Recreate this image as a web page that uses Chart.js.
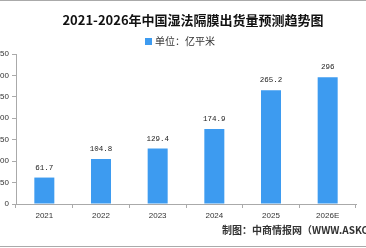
<!DOCTYPE html>
<html>
<head>
<meta charset="utf-8">
<script src="https://cdn.jsdelivr.net/npm/chart.js@4"></script>
<style>
  html, body { margin: 0; padding: 0; background: #fff; }
  #wrap { position: relative; width: 366px; height: 248px; overflow: hidden; }
  #footer {
    position: absolute; left: 222px; top: 222px; white-space: nowrap;
    font: bold 10px "Noto Sans CJK SC", sans-serif; color: #333;
  }
</style>
</head>
<body>
<div id="wrap">
  <canvas id="c" width="366" height="248"></canvas>
  <div id="footer">制图：中商情报网（WWW.ASKCI.COM）</div>
</div>
<script>
// data
const years = ['2021', '2022', '2023', '2024', '2025', '2026E']
const shipments = [61.7, 104.8, 129.4, 174.9, 265.2, 296]
const yTicks = [0, 50, 100, 150, 200, 250, 300, 350]

const chartTitle = '2021-2026年中国湿法隔膜出货量预测趋势图'
const unitLabel = '单位：亿平米'
const barColor = '#3d9bf0'

// title, legend, frame lines and value labels
const decor = {
  id: 'decor',
  afterDraw(chart) {
    const ctx = chart.ctx
    ctx.save()
    ctx.fillStyle = '#aaaaaa'
    ctx.fillRect(0, 0, 366, 1)
    ctx.fillRect(0, 246, 366, 1)

    ctx.fillStyle = '#111'
    ctx.font = 'bold 13px "Noto Sans CJK SC", sans-serif'
    ctx.textAlign = 'center'
    ctx.textBaseline = 'middle'
    ctx.fillText(chartTitle, 193, 20)

    ctx.fillStyle = barColor
    ctx.fillRect(145, 38, 7, 7)
    ctx.fillStyle = '#333'
    ctx.font = '10px "Noto Sans CJK SC", sans-serif'
    ctx.textAlign = 'left'
    ctx.fillText(unitLabel, 155, 41.5)

    ctx.font = '7.5px "Liberation Mono", monospace'
    ctx.textAlign = 'center'
    ctx.fillStyle = '#222'
    const meta = chart.getDatasetMeta(0)
    meta.data.forEach(function (bar, i) {
      ctx.fillText(String(shipments[i]), bar.x, bar.y - 10)
    })
    ctx.restore()
  }
}

const config = {
  type: 'bar',
  data: {
    labels: years,
    datasets: [{
      label: unitLabel,
      data: shipments,
      backgroundColor: barColor,
      categoryPercentage: 1,
      barPercentage: 0.353
    }]
  },
  options: {
    responsive: false,
    animation: false,
    layout: { padding: { top: 54, right: 10, left: 0, bottom: 0 } },
    plugins: {
      legend: { display: false },
      title: { display: false },
      tooltip: { enabled: false }
    },
    scales: {
      x: {
        grid: { drawOnChartArea: false, color: '#aaa', tickLength: 4 },
        border: { color: '#aaa' },
        ticks: { color: '#333', font: { family: 'Liberation Sans', size: 8 }, padding: 3 },
        afterFit(scale) { scale.height = 44 }
      },
      y: {
        min: 0,
        max: 350,
        afterBuildTicks(scale) { scale.ticks = yTicks.map(v => ({ value: v })) },
        grid: { drawOnChartArea: false, color: '#aaa', tickLength: 4 },
        border: { color: '#aaa' },
        ticks: { color: '#333', font: { family: 'Liberation Sans', size: 8 }, padding: 3 },
        afterFit(scale) { scale.width = 16 }
      }
    }
  },
  plugins: [decor]
}

new Chart(document.getElementById('c'), config)
</script>
</body>
</html>
